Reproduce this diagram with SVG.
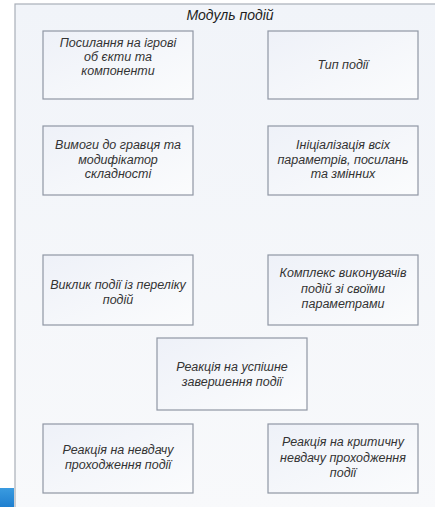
<svg xmlns="http://www.w3.org/2000/svg" width="435" height="507" viewBox="0 0 435 507">
<defs>
<linearGradient id="bg" x1="0" y1="0" x2="0" y2="1">
<stop offset="0" stop-color="#f1f4f9"/>
<stop offset="1" stop-color="#f8f9fb"/>
</linearGradient>
<linearGradient id="bx" x1="0" y1="0" x2="1" y2="1">
<stop offset="0" stop-color="#eef1f8"/>
<stop offset="1" stop-color="#fbfcfd"/>
</linearGradient>
<linearGradient id="blue" x1="0" y1="0" x2="0" y2="1">
<stop offset="0" stop-color="#3a9be0"/>
<stop offset="1" stop-color="#1f7fcf"/>
</linearGradient>
</defs>
<style>
.box{fill:url(#bx);stroke:#8f97a4;stroke-width:1.2}
.t{font-family:"Liberation Sans",Arial,sans-serif;font-style:italic;font-size:12.5px;fill:#333;text-anchor:middle}
.title{font-family:"Liberation Sans",Arial,sans-serif;font-style:italic;font-size:14px;fill:#1e1e1e;text-anchor:middle}
</style>
<rect x="0" y="0" width="435" height="507" fill="#ffffff"/>
<rect x="15" y="4" width="430" height="510" fill="url(#bg)" stroke="#a9afb8" stroke-width="1.2"/>
<rect x="0" y="488" width="14" height="19" fill="url(#blue)"/>
<text class="title" x="230" y="20">Модуль подій</text>
<g id="n1"><rect class="box" x="43" y="31" width="150" height="68"/>
<text class="t" x="118" y="47">Посилання на ігрові</text><text class="t" x="118" y="61">об єкти та</text><text class="t" x="118" y="75">компоненти</text></g>
<g id="n2"><rect class="box" x="268" y="31" width="150" height="68"/>
<text class="t" x="343" y="69">Тип події</text></g>
<g id="n3"><rect class="box" x="43" y="126" width="150" height="69"/>
<text class="t" x="118" y="149">Вимоги до гравця та</text><text class="t" x="118" y="163.5">модифікатор</text><text class="t" x="118" y="178">складності</text></g>
<g id="n4"><rect class="box" x="268" y="126" width="150" height="69"/>
<text class="t" x="343" y="149">Ініціалізація всіх</text><text class="t" x="343" y="163.5">параметрів, посилань</text><text class="t" x="343" y="178">та змінних</text></g>
<g id="n5"><rect class="box" x="43" y="255" width="150" height="70"/>
<text class="t" x="118" y="289">Виклик події із переліку</text><text class="t" x="118" y="304">подій</text></g>
<g id="n6"><rect class="box" x="268" y="255" width="150" height="70"/>
<text class="t" x="343" y="277">Комплекс виконувачів</text><text class="t" x="343" y="292.5">подій зі своїми</text><text class="t" x="343" y="308">параметрами</text></g>
<g id="n7"><rect class="box" x="157" y="338" width="150" height="72"/>
<text class="t" x="232" y="371">Реакція на успішне</text><text class="t" x="232" y="385.5">завершення події</text></g>
<g id="n8"><rect class="box" x="43" y="424" width="150" height="69"/>
<text class="t" x="118" y="454">Реакція на невдачу</text><text class="t" x="118" y="469">проходження події</text></g>
<g id="n9"><rect class="box" x="268" y="424" width="150" height="69"/>
<text class="t" x="343" y="446">Реакція на критичну</text><text class="t" x="343" y="461.5">невдачу проходження</text><text class="t" x="343" y="477">події</text></g>
<g id="connectors"></g>
</svg>
